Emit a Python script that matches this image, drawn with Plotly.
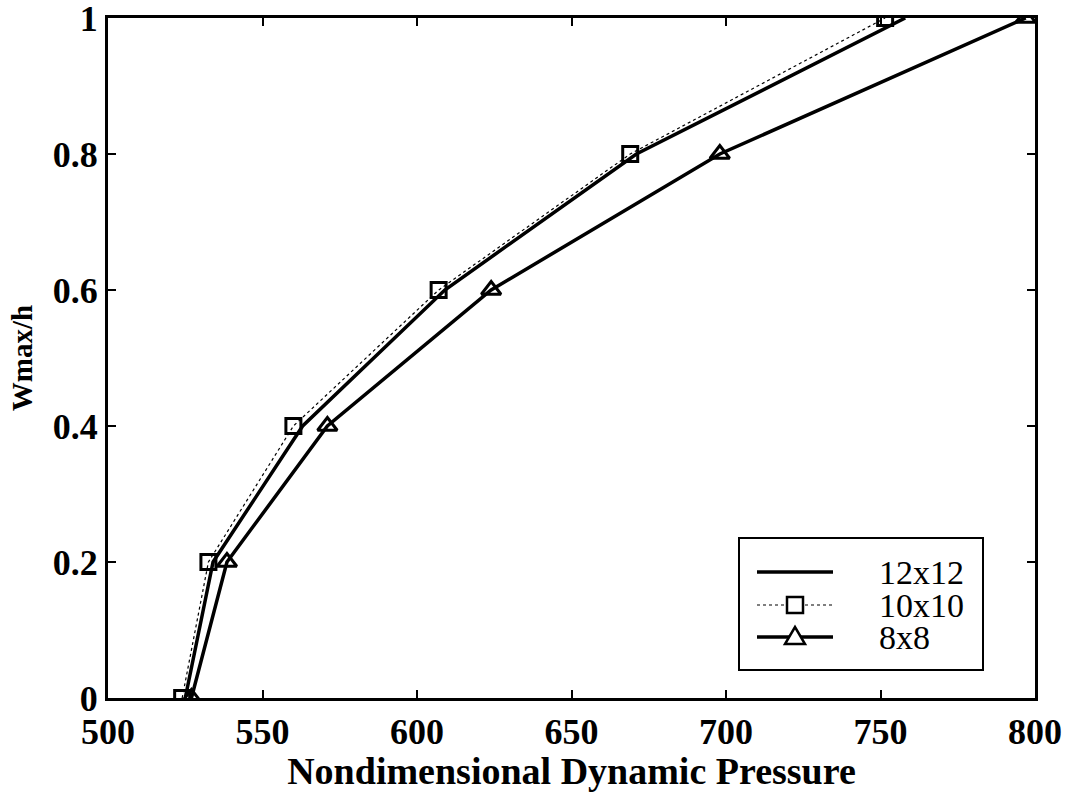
import plotly.graph_objects as go

wmax_h = [0.0, 0.2, 0.4, 0.6, 0.8, 1.0]
q_12x12 = [525, 534, 563, 609, 671, 758]
q_10x10 = [524, 532.5, 560, 607, 669, 751.5]
q_8x8 = [527, 538.5, 571, 624, 698, 797]
series_names = ["12x12", "10x10", "8x8"]

x_ticks = [500, 550, 600, 650, 700, 750, 800]
y_ticks = [0, 0.2, 0.4, 0.6, 0.8, 1]
y_tick_labels = ["0", "0.2", "0.4", "0.6", "0.8", "1"]

FONT = "Liberation Serif"
W, H = 1070, 792
ML, MR, MT, MB = 108, 35, 18, 94
PW, PH = W - ML - MR, H - MT - MB


def px(xp):
    return (xp - ML) / PW


def py(yp):
    return (H - MB - yp) / PH


fig = go.Figure()
fig.add_trace(go.Scatter(x=q_12x12, y=wmax_h, mode="lines", name=series_names[0],
                         line=dict(color="black", width=3.5)))
fig.add_trace(go.Scatter(x=q_10x10, y=wmax_h, mode="lines+markers", name=series_names[1],
                         line=dict(color="black", width=1.2, dash="dot"),
                         marker=dict(symbol="square-open", size=15, color="black",
                                     line=dict(width=3))))
fig.add_trace(go.Scatter(x=q_8x8, y=wmax_h, mode="lines+markers", name=series_names[2],
                         line=dict(color="black", width=3.5),
                         marker=dict(symbol="triangle-up-open", size=17, color="black",
                                     line=dict(width=3))))

axis_common = dict(showgrid=False, zeroline=False, showline=True, linecolor="black",
                   linewidth=3, mirror="ticks", ticks="inside", ticklen=8,
                   tickwidth=2, tickcolor="black", automargin=False,
                   ticklabeloverflow="allow",
                   tickfont=dict(family=FONT, size=36, color="black", weight="bold"))

fig.update_xaxes(range=[500, 800], tickvals=x_ticks,
                 title=dict(text="Nondimensional Dynamic Pressure",
                            font=dict(family=FONT, size=38, color="black", weight="bold"),
                            standoff=2),
                 **axis_common)
fig.update_yaxes(range=[0, 1], tickvals=y_ticks, ticktext=y_tick_labels,
                 title=dict(text="Wmax/h",
                            font=dict(family=FONT, size=29, color="black", weight="bold"),
                            standoff=12),
                 **axis_common)

# ---- manual legend (box, keys, labels) in paper coordinates ----
shapes = []
annotations = []
box = dict(x0=739, x1=983, y0=538, y1=670)
shapes.append(dict(type="rect", xref="paper", yref="paper",
                   x0=px(box["x0"]), x1=px(box["x1"]), y0=py(box["y1"]), y1=py(box["y0"]),
                   line=dict(color="black", width=2), fillcolor="white", layer="above"))
rows_y = [572, 605, 637]
key_x0, key_x1, key_xc = 757, 833, 795
text_x = 877
key_styles = [dict(color="black", width=3.5),
              dict(color="black", width=1.2, dash="dot"),
              dict(color="black", width=3.5)]
for name, yy, st in zip(series_names, rows_y, key_styles):
    shapes.append(dict(type="line", xref="paper", yref="paper",
                       x0=px(key_x0), x1=px(key_x1), y0=py(yy), y1=py(yy),
                       line=st, layer="above"))
    annotations.append(dict(xref="paper", yref="paper", x=px(text_x), y=py(yy),
                            xanchor="left", yanchor="middle", showarrow=False,
                            height=30, valign="middle",
                            text=name, font=dict(family=FONT, size=34, color="black")))
# square key
sq = 8
shapes.append(dict(type="rect", xref="paper", yref="paper",
                   x0=px(key_xc - sq), x1=px(key_xc + sq),
                   y0=py(rows_y[1] + sq), y1=py(rows_y[1] - sq),
                   line=dict(color="black", width=2.5), fillcolor="white", layer="above"))
# triangle key
tx, ty = key_xc, rows_y[2]
shapes.append(dict(type="path", xref="paper", yref="paper",
                   path="M {} {} L {} {} L {} {} Z".format(
                       px(tx - 10), py(ty + 7), px(tx + 10), py(ty + 7), px(tx), py(ty - 10)),
                   line=dict(color="black", width=2.5), fillcolor="white", layer="above"))

fig.update_layout(
    width=W, height=H,
    margin=dict(l=ML, r=MR, t=MT, b=MB),
    paper_bgcolor="white", plot_bgcolor="white",
    showlegend=False,
    shapes=shapes, annotations=annotations,
)

fig.write_html("out.html", config={"displayModeBar": False},
               post_script="document.body.style.margin='0';document.body.style.padding='0';")
